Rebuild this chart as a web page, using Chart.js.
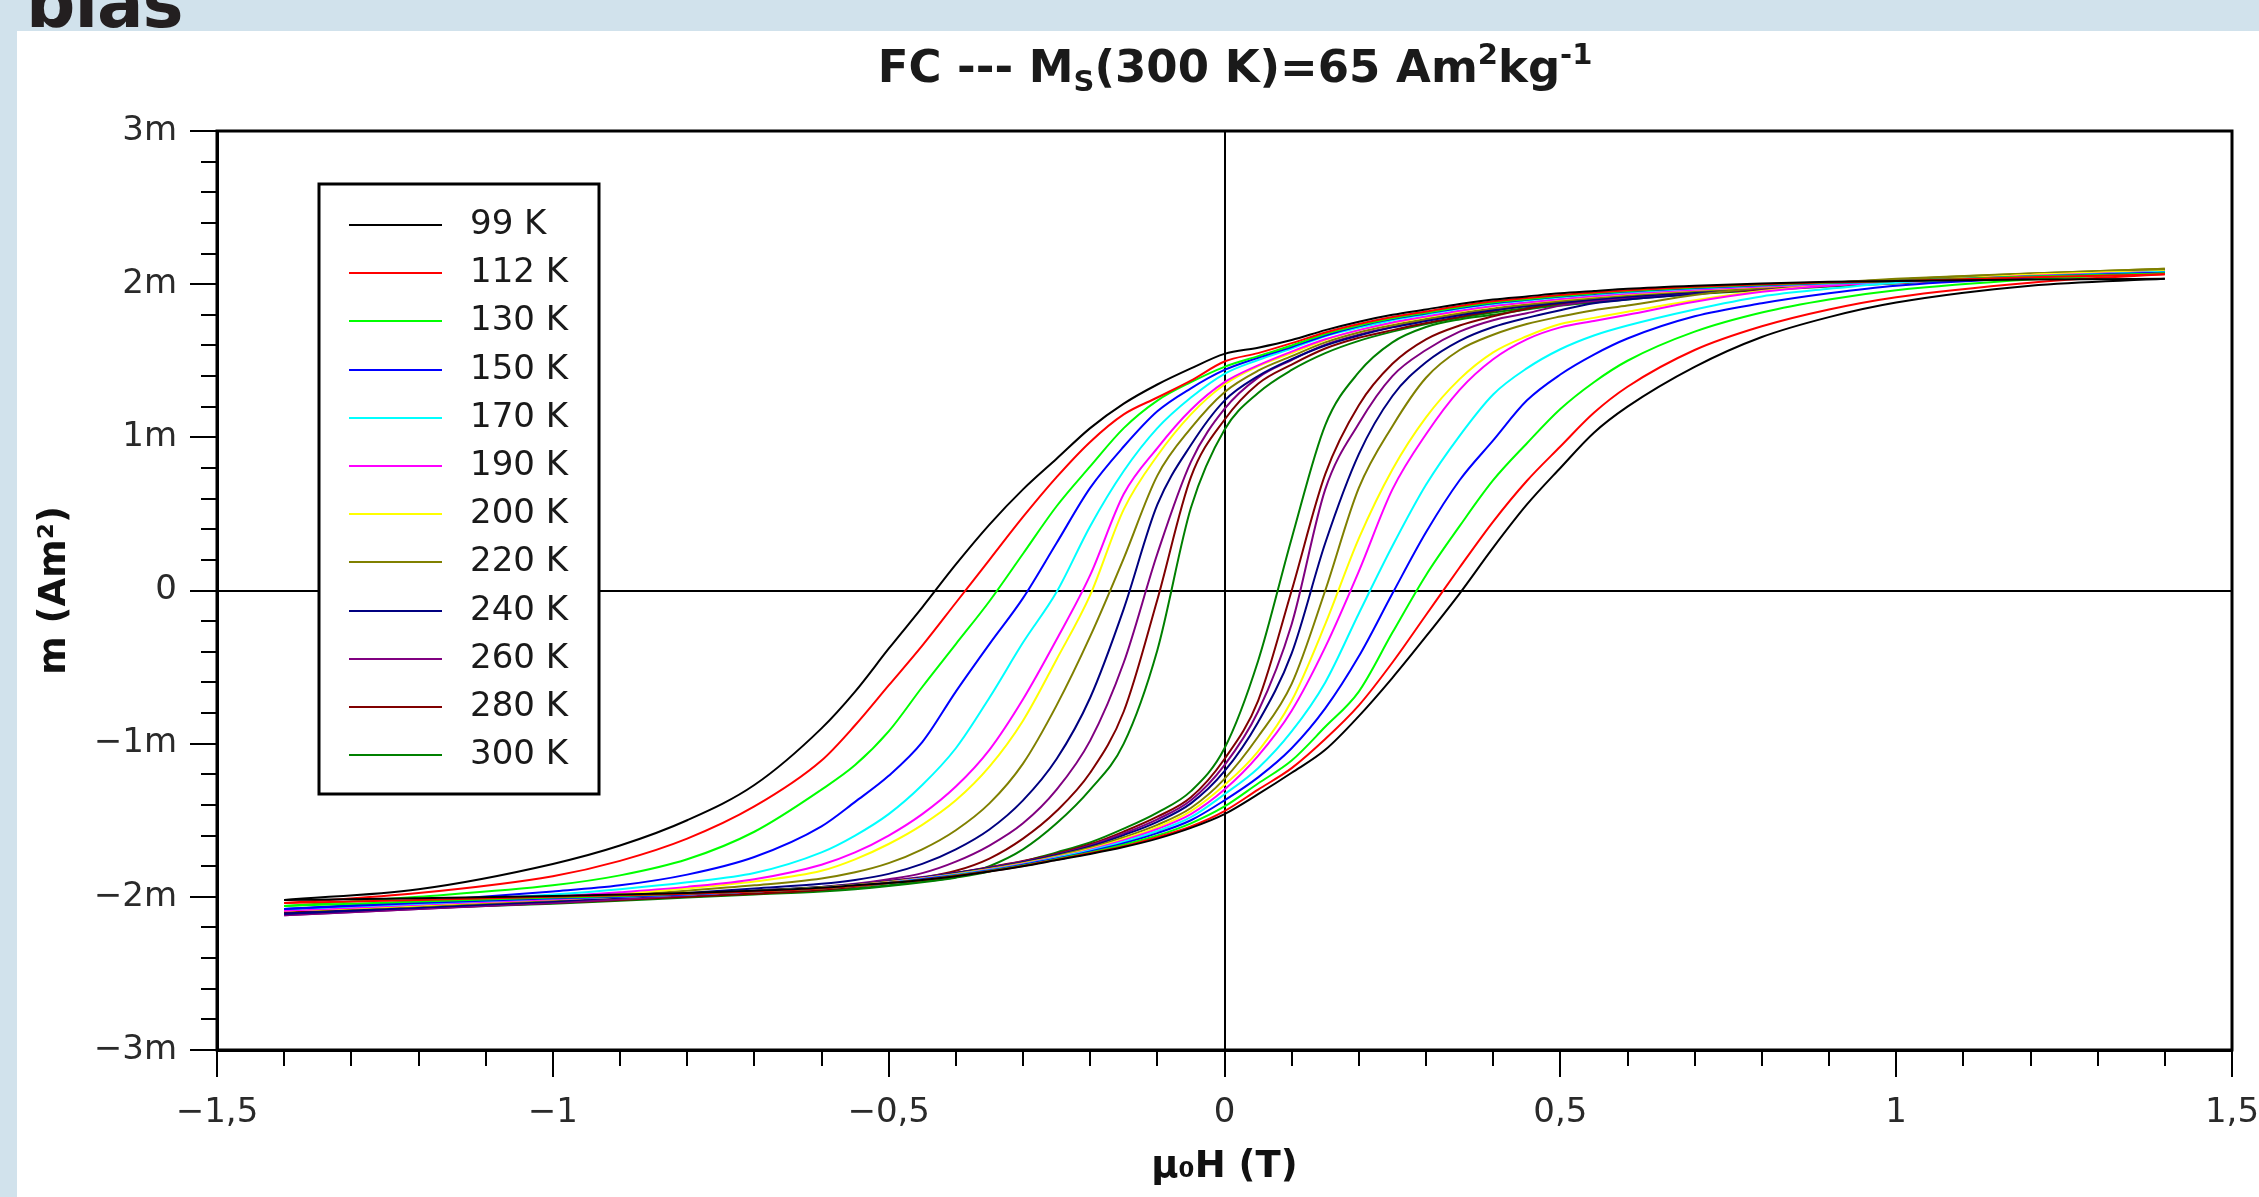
<!DOCTYPE html>
<html>
<head>
<meta charset="utf-8">
<title>FC hysteresis loops</title>
<script src="https://cdn.jsdelivr.net/npm/chart.js@4.4.1/dist/chart.umd.min.js"></script>
<style>
  html, body { margin: 0; padding: 0; }
  body { width: 2259px; height: 1197px; background: #d1e2ec; position: relative; overflow: hidden; }
  #heading { position: absolute; left: 26px; top: -31px; font: bold 69px "DejaVu Sans"; line-height: 69px; color: #231f20; letter-spacing: -1px; }
  #panel { position: absolute; left: 17px; top: 31px; right: 0; bottom: 0; background: #fff; }
  #chart { position: absolute; left: 0; top: 0; }
</style>
</head>
<body>
<div id="heading">bias</div>
<div id="panel"><canvas id="chart" width="2242" height="1166"></canvas></div>
<script>
// field grid (T), shared by every branch
const fieldT = [-1.4, -1.2, -1.0, -0.9, -0.8, -0.7, -0.6, -0.55, -0.5, -0.45, -0.4, -0.35, -0.3, -0.25, -0.2, -0.15, -0.1, -0.05,
  0, 0.05, 0.1, 0.15, 0.2, 0.25, 0.3, 0.35, 0.4, 0.45, 0.5, 0.55, 0.6, 0.7, 0.8, 0.9, 1.0, 1.2, 1.4];

const temps = ['99 K', '112 K', '130 K', '150 K', '170 K', '190 K', '200 K', '220 K', '240 K', '260 K', '280 K', '300 K'];
const colours = ['#000000', '#ff0000', '#00ff00', '#0000ff', '#00ffff', '#ff00ff', '#ffff00', '#808000', '#000080', '#800080', '#800000', '#008000'];

const xTickLabels = { '-1.5': '\u22121,5', '-1': '\u22121', '-0.5': '\u22120,5', '0': '0', '0.5': '0,5', '1': '1', '1.5': '1,5' };
const yTickLabels = { '-3': '\u22123m', '-2': '\u22122m', '-1': '\u22121m', '0': '0', '1': '1m', '2': '2m', '3': '3m' };

// moment in mAm2, descending branch (field coming down from +1.4 T)
const down99 = [-2.02, -1.95, -1.785, -1.665, -1.50, -1.27, -0.90, -0.66, -0.38, -0.11, 0.17, 0.43, 0.66, 0.86, 1.06, 1.22, 1.345, 1.45,
  1.545, 1.585, 1.635, 1.70, 1.755, 1.80, 1.835, 1.87, 1.90, 1.92, 1.94, 1.955, 1.97, 1.99, 2.005, 2.015, 2.02, 2.03, 2.035];
const down112 = [-2.04, -1.975, -1.865, -1.765, -1.62, -1.41, -1.11, -0.88, -0.62, -0.36, -0.08, 0.20, 0.48, 0.74, 0.97, 1.15, 1.26, 1.37,
  1.495, 1.55, 1.615, 1.685, 1.74, 1.785, 1.822, 1.858, 1.888, 1.91, 1.93, 1.946, 1.96, 1.983, 2.0, 2.012, 2.02, 2.045, 2.065];
const down130 = [-2.06, -2.0, -1.925, -1.86, -1.755, -1.575, -1.30, -1.14, -0.92, -0.63, -0.35, -0.07, 0.24, 0.55, 0.81, 1.06, 1.24, 1.36,
  1.46, 1.53, 1.60, 1.675, 1.73, 1.777, 1.814, 1.85, 1.88, 1.902, 1.923, 1.94, 1.955, 1.978, 1.996, 2.01, 2.02, 2.05, 2.07];
const down150 = [-2.08, -2.03, -1.965, -1.925, -1.855, -1.74, -1.54, -1.38, -1.21, -0.99, -0.66, -0.35, -0.05, 0.31, 0.67, 0.94, 1.17, 1.32,
  1.44, 1.52, 1.59, 1.665, 1.725, 1.772, 1.809, 1.845, 1.876, 1.898, 1.919, 1.936, 1.952, 1.975, 1.993, 2.007, 2.02, 2.05, 2.075];
const down170 = [-2.08, -2.04, -1.985, -1.95, -1.905, -1.845, -1.71, -1.60, -1.46, -1.27, -1.03, -0.70, -0.34, -0.01, 0.42, 0.78, 1.06, 1.26,
  1.415, 1.505, 1.58, 1.66, 1.715, 1.765, 1.802, 1.839, 1.87, 1.893, 1.914, 1.932, 1.948, 1.972, 1.991, 2.005, 2.015, 2.05, 2.08];
const down190 = [-2.09, -2.05, -2.0, -1.97, -1.935, -1.885, -1.79, -1.71, -1.60, -1.46, -1.28, -1.04, -0.71, -0.32, 0.10, 0.63, 0.93, 1.18,
  1.36, 1.47, 1.56, 1.64, 1.70, 1.75, 1.789, 1.826, 1.857, 1.881, 1.903, 1.922, 1.939, 1.964, 1.985, 2.0, 2.015, 2.055, 2.08];
const down200 = [-2.09, -2.055, -2.01, -1.98, -1.945, -1.90, -1.83, -1.755, -1.655, -1.53, -1.37, -1.15, -0.85, -0.45, -0.03, 0.53, 0.88, 1.15,
  1.345, 1.465, 1.55, 1.635, 1.70, 1.746, 1.785, 1.822, 1.854, 1.878, 1.90, 1.919, 1.936, 1.962, 1.983, 1.999, 2.015, 2.06, 2.085];
const down220 = [-2.09, -2.06, -2.015, -1.99, -1.96, -1.925, -1.88, -1.84, -1.78, -1.69, -1.565, -1.39, -1.13, -0.75, -0.30, 0.21, 0.75, 1.06,
  1.295, 1.435, 1.53, 1.62, 1.685, 1.732, 1.772, 1.81, 1.842, 1.868, 1.89, 1.91, 1.928, 1.955, 1.98, 2.01, 2.035, 2.07, 2.10];
const down240 = [-2.11, -2.07, -2.025, -2.0, -1.975, -1.945, -1.915, -1.89, -1.85, -1.785, -1.69, -1.56, -1.37, -1.10, -0.70, -0.12, 0.56, 0.95,
  1.24, 1.40, 1.51, 1.60, 1.665, 1.718, 1.759, 1.797, 1.83, 1.856, 1.879, 1.90, 1.918, 1.947, 1.985, 2.01, 2.03, 2.065, 2.09];
const down260 = [-2.12, -2.08, -2.035, -2.01, -1.985, -1.96, -1.935, -1.915, -1.885, -1.845, -1.77, -1.665, -1.52, -1.30, -0.98, -0.47, 0.24, 0.84,
  1.185, 1.39, 1.505, 1.605, 1.67, 1.72, 1.764, 1.802, 1.836, 1.863, 1.887, 1.91, 1.928, 1.959, 1.98, 2.0, 2.025, 2.065, 2.09];
const down280 = [-2.10, -2.07, -2.035, -2.015, -1.995, -1.975, -1.95, -1.93, -1.905, -1.875, -1.83, -1.75, -1.62, -1.44, -1.19, -0.79, -0.06, 0.74,
  1.115, 1.35, 1.475, 1.58, 1.65, 1.70, 1.746, 1.786, 1.825, 1.86, 1.89, 1.905, 1.92, 1.95, 1.975, 2.0, 2.02, 2.065, 2.09];
const down300 = [-2.10, -2.07, -2.04, -2.02, -2.0, -1.98, -1.96, -1.945, -1.925, -1.90, -1.87, -1.80, -1.69, -1.52, -1.30, -1.00, -0.39, 0.54,
  1.05, 1.29, 1.44, 1.55, 1.63, 1.69, 1.74, 1.78, 1.815, 1.845, 1.87, 1.89, 1.91, 1.94, 1.965, 1.99, 2.01, 2.055, 2.085];

// ascending branch (field going up from -1.4 T)
const up99 = [-2.02, -2.01, -1.995, -1.985, -1.975, -1.96, -1.94, -1.925, -1.91, -1.89, -1.865, -1.835, -1.80, -1.76, -1.72, -1.675, -1.62, -1.55,
  -1.46, -1.33, -1.19, -1.04, -0.82, -0.57, -0.30, -0.02, 0.28, 0.56, 0.80, 1.03, 1.20, 1.46, 1.655, 1.785, 1.88, 1.99, 2.035];
const up112 = [-2.04, -2.02, -2.0, -1.99, -1.98, -1.965, -1.945, -1.93, -1.91, -1.89, -1.863, -1.833, -1.798, -1.757, -1.716, -1.67, -1.61, -1.54,
  -1.44, -1.30, -1.16, -0.97, -0.75, -0.47, -0.16, 0.15, 0.45, 0.715, 0.94, 1.16, 1.33, 1.57, 1.725, 1.835, 1.915, 2.01, 2.065];
const up130 = [-2.06, -2.03, -2.005, -1.995, -1.98, -1.965, -1.945, -1.93, -1.91, -1.89, -1.861, -1.831, -1.795, -1.754, -1.711, -1.66, -1.60, -1.52,
  -1.41, -1.26, -1.11, -0.89, -0.66, -0.275, 0.10, 0.42, 0.72, 0.96, 1.185, 1.36, 1.50, 1.69, 1.815, 1.90, 1.96, 2.03, 2.07];
const up150 = [-2.08, -2.04, -2.01, -2.0, -1.985, -1.965, -1.945, -1.93, -1.91, -1.885, -1.859, -1.828, -1.79, -1.75, -1.704, -1.65, -1.584, -1.50,
  -1.37, -1.22, -1.03, -0.77, -0.43, -0.02, 0.38, 0.72, 0.98, 1.24, 1.41, 1.54, 1.645, 1.79, 1.875, 1.94, 1.99, 2.04, 2.075];
const up170 = [-2.08, -2.045, -2.01, -2.0, -1.985, -1.965, -1.943, -1.928, -1.908, -1.884, -1.856, -1.825, -1.788, -1.745, -1.698, -1.64, -1.57, -1.48,
  -1.33, -1.16, -0.92, -0.60, -0.15, 0.29, 0.69, 1.01, 1.28, 1.45, 1.575, 1.665, 1.73, 1.835, 1.92, 1.97, 2.01, 2.045, 2.08];
const up190 = [-2.09, -2.05, -2.015, -2.0, -1.985, -1.965, -1.942, -1.926, -1.906, -1.882, -1.854, -1.822, -1.785, -1.742, -1.692, -1.63, -1.557, -1.46,
  -1.30, -1.08, -0.785, -0.37, 0.125, 0.66, 1.02, 1.31, 1.51, 1.64, 1.718, 1.76, 1.80, 1.885, 1.95, 1.99, 2.01, 2.05, 2.08];
const up200 = [-2.09, -2.055, -2.015, -2.0, -1.985, -1.963, -1.94, -1.924, -1.904, -1.88, -1.852, -1.82, -1.782, -1.738, -1.687, -1.622, -1.545, -1.44,
  -1.27, -1.05, -0.72, -0.22, 0.34, 0.79, 1.13, 1.38, 1.555, 1.66, 1.74, 1.78, 1.82, 1.895, 1.955, 1.995, 2.01, 2.06, 2.085];
const up220 = [-2.09, -2.06, -2.02, -2.0, -1.983, -1.962, -1.938, -1.922, -1.902, -1.878, -1.849, -1.816, -1.779, -1.733, -1.68, -1.611, -1.53, -1.42,
  -1.23, -0.955, -0.61, 0.0, 0.67, 1.073, 1.389, 1.57, 1.67, 1.74, 1.789, 1.83, 1.86, 1.93, 1.975, 2.0, 2.03, 2.07, 2.10];
const up240 = [-2.11, -2.07, -2.03, -2.005, -1.983, -1.96, -1.935, -1.92, -1.90, -1.875, -1.845, -1.812, -1.774, -1.727, -1.671, -1.597, -1.51, -1.39,
  -1.18, -0.86, -0.41, 0.31, 0.89, 1.27, 1.49, 1.63, 1.72, 1.78, 1.83, 1.875, 1.90, 1.935, 1.975, 2.0, 2.025, 2.065, 2.09];
const up260 = [-2.12, -2.08, -2.04, -2.015, -1.99, -1.965, -1.94, -1.92, -1.895, -1.87, -1.843, -1.809, -1.77, -1.723, -1.664, -1.586, -1.494, -1.37,
  -1.14, -0.79, -0.22, 0.66, 1.09, 1.40, 1.57, 1.69, 1.765, 1.81, 1.86, 1.89, 1.91, 1.94, 1.97, 1.995, 2.02, 2.065, 2.09];
const up280 = [-2.10, -2.075, -2.04, -2.02, -2.0, -1.98, -1.955, -1.935, -1.91, -1.88, -1.845, -1.806, -1.766, -1.718, -1.657, -1.574, -1.477, -1.35,
  -1.10, -0.72, 0.0, 0.76, 1.21, 1.48, 1.64, 1.73, 1.79, 1.84, 1.875, 1.895, 1.915, 1.94, 1.965, 1.99, 2.01, 2.06, 2.09];
const up300 = [-2.10, -2.075, -2.045, -2.025, -2.005, -1.985, -1.965, -1.95, -1.93, -1.905, -1.875, -1.835, -1.77, -1.71, -1.645, -1.555, -1.45, -1.31,
  -1.03, -0.46, 0.34, 1.08, 1.425, 1.62, 1.72, 1.77, 1.80, 1.835, 1.86, 1.88, 1.90, 1.935, 1.96, 1.985, 2.005, 2.05, 2.085];

const downBranches = [down99, down112, down130, down150, down170, down190, down200, down220, down240, down260, down280, down300];
const upBranches = [up99, up112, up130, up150, up170, up190, up200, up220, up240, up260, up280, up300];

const FONT = 'DejaVu Sans';
Chart.defaults.font.family = FONT;
Chart.defaults.color = '#222';

const datasets = [];
temps.forEach((t, i) => {
  [downBranches[i], upBranches[i]].forEach((branch) => {
    datasets.push({
      label: t,
      data: fieldT.map((h, k) => ({ x: h, y: branch[k] })),
      borderColor: colours[i],
      borderWidth: 2,
      pointRadius: 0,
      fill: false,
      cubicInterpolationMode: 'monotone'
    });
  });
});

// minor ticks, frame, title and legend
const decorPlugin = {
  id: 'decor',
  afterDraw(chart) {
    const ctx = chart.ctx;
    const area = chart.chartArea;
    const xs = chart.scales.x;
    const ys = chart.scales.y;
    ctx.save();
    ctx.strokeStyle = '#000';
    ctx.lineWidth = 2;
    // minor ticks
    for (let k = -14; k <= 14; k++) {
      if (k % 5 === 0) continue;
      const px = Math.round(xs.getPixelForValue(k / 10));
      ctx.beginPath();
      ctx.moveTo(px, area.bottom);
      ctx.lineTo(px, area.bottom + 16);
      ctx.stroke();
    }
    for (let k = -14; k <= 14; k++) {
      if (k % 5 === 0) continue;
      const py = Math.round(ys.getPixelForValue(k / 5));
      ctx.beginPath();
      ctx.moveTo(area.left - 16, py);
      ctx.lineTo(area.left, py);
      ctx.stroke();
    }
    // frame
    ctx.lineWidth = 3;
    ctx.strokeRect(area.left, area.top, area.right - area.left, area.bottom - area.top);

    // title with sub/superscripts
    const parts = [
      { text: 'FC --- M', size: 45, dy: 0 },
      { text: 'S', size: 29, dy: 9 },
      { text: '(300 K)=65 Am', size: 45, dy: 0 },
      { text: '2', size: 29, dy: -18 },
      { text: 'kg', size: 45, dy: 0 },
      { text: '-1', size: 29, dy: -18 }
    ];
    let total = 0;
    parts.forEach((p) => {
      ctx.font = 'bold ' + p.size + 'px "' + FONT + '"';
      p.w = ctx.measureText(p.text).width;
      total += p.w;
    });
    let tx = 1218 - total / 2;
    ctx.fillStyle = '#1a1a1a';
    ctx.textBaseline = 'alphabetic';
    ctx.textAlign = 'left';
    parts.forEach((p) => {
      ctx.font = 'bold ' + p.size + 'px "' + FONT + '"';
      ctx.fillText(p.text, tx, 51 + p.dy);
      tx += p.w;
    });

    // legend box
    const bx = 302, by = 153, bw = 280, bh = 610;
    ctx.fillStyle = '#fff';
    ctx.fillRect(bx, by, bw, bh);
    ctx.lineWidth = 3;
    ctx.strokeStyle = '#000';
    ctx.strokeRect(bx, by, bw, bh);
    ctx.font = '34px "' + FONT + '"';
    ctx.textBaseline = 'middle';
    temps.forEach((t, i) => {
      const ry = Math.round(194 + i * 48.2);
      ctx.strokeStyle = colours[i];
      ctx.lineWidth = 2;
      ctx.beginPath();
      ctx.moveTo(332, ry);
      ctx.lineTo(425, ry);
      ctx.stroke();
      ctx.fillStyle = '#1a1a1a';
      ctx.fillText(t, 453, ry);
    });
    ctx.restore();
  }
};

new Chart(document.getElementById('chart'), {
  type: 'line',
  data: { datasets },
  plugins: [decorPlugin],
  options: {
    responsive: false,
    animation: false,
    devicePixelRatio: 1,
    layout: { padding: { top: 100, right: 27, left: 0, bottom: 0 } },
    plugins: { legend: { display: false }, tooltip: { enabled: false } },
    scales: {
      x: {
        type: 'linear',
        min: -1.5,
        max: 1.5,
        afterFit(scale) { scale.height = 147; scale.paddingLeft = 0; scale.paddingRight = 0; },
        ticks: {
          stepSize: 0.5,
          padding: 16,
          font: { size: 34 },
          color: '#2a2a2a',
          maxRotation: 0,
          callback: (v) => xTickLabels[String(Math.round(v * 10) / 10)]
        },
        grid: {
          drawOnChartArea: true,
          color: (c) => (c.tick && c.tick.value === 0 ? '#000' : 'rgba(0,0,0,0)'),
          tickColor: '#000',
          tickLength: 27,
          lineWidth: 2,
          tickWidth: 2
        },
        border: { display: true, color: '#000', width: 3 },
        title: {
          display: true,
          text: '\u03bc\u2080H (T)',
          font: { size: 37, weight: 'bold' },
          color: '#111',
          padding: { top: 0, bottom: 7 }
        }
      },
      y: {
        type: 'linear',
        min: -3,
        max: 3,
        afterFit(scale) { scale.width = 200; scale.paddingTop = 0; scale.paddingBottom = 0; },
        ticks: {
          stepSize: 1,
          padding: 13,
          font: { size: 34 },
          color: '#2a2a2a',
          callback: (v) => yTickLabels[String(Math.round(v))]
        },
        grid: {
          drawOnChartArea: true,
          color: (c) => (c.tick && c.tick.value === 0 ? '#000' : 'rgba(0,0,0,0)'),
          tickColor: '#000',
          tickLength: 27,
          lineWidth: 2,
          tickWidth: 2
        },
        border: { display: true, color: '#000', width: 3 },
        title: {
          display: true,
          text: 'm (Am\u00b2)',
          font: { size: 37, weight: 'bold' },
          color: '#111',
          padding: { top: 16, bottom: 0 }
        }
      }
    }
  }
});
</script>
</body>
</html>
